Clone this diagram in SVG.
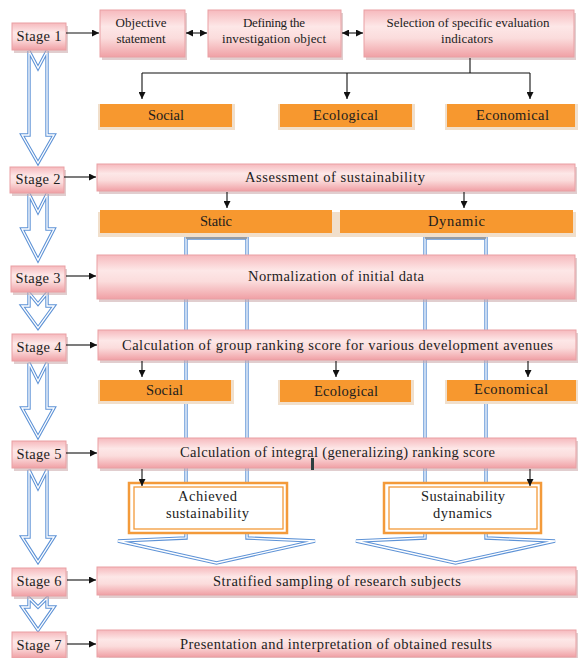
<svg xmlns="http://www.w3.org/2000/svg" width="578" height="658" viewBox="0 0 578 658">
<defs>
<linearGradient id="pk" x1="0" y1="0" x2="0" y2="1">
<stop offset="0" stop-color="#f6b9bd"/>
<stop offset="0.35" stop-color="#fde7e7"/>
<stop offset="0.6" stop-color="#fbdcdc"/>
<stop offset="1" stop-color="#f0a0a5"/>
</linearGradient>
<marker id="ah" viewBox="0 0 10 10" refX="10" refY="5" markerWidth="7" markerHeight="7" markerUnits="userSpaceOnUse" orient="auto-start-reverse">
<path d="M0,0 L10,5 L0,10 z" fill="#111"/>
</marker>
<style>
.pink{fill:url(#pk);stroke:#e9a0a4;stroke-width:1}
.shd{fill:#c9a5a7;opacity:0.55}
.org{fill:#f7982f}
.osh{fill:#f1dfcb}
.t{font-family:"Liberation Serif","Times New Roman",serif;font-size:14.5px;fill:#1d1d1d;text-anchor:middle}
.tt{font-family:"Liberation Serif","Times New Roman",serif;font-size:13px;fill:#1d1d1d;text-anchor:middle}
.ts{font-family:"Liberation Serif","Times New Roman",serif;font-size:14.5px;fill:#1d1d1d;text-anchor:middle}
.c{stroke:#111;stroke-width:1.1;fill:none}
.ca{stroke:#111;stroke-width:1.1;fill:none;marker-end:url(#ah)}
.b1{fill:#ffffff;stroke:#5d92d6;stroke-width:3.4;stroke-linejoin:miter}
.b2{fill:none;stroke:#ffffff;stroke-width:1.3;stroke-linejoin:miter}
.ob{fill:#fff;stroke:#f39a3a;stroke-width:2.5}
.ib{fill:none;stroke:#f39a3a;stroke-width:1.3}
</style>
</defs>

<!-- big hollow arrows (behind boxes) -->
<g id="hollow-arrows">
<path class="b1" d="M186,238 H247 V538 L315,541 L216.5,563 L118,541 L186,538 Z"/>
<path class="b2" d="M186,238 H247 V538 L315,541 L216.5,563 L118,541 L186,538 Z"/>
<path class="b1" d="M425,238 H486 V538 L555,541 L455.5,563 L356,541 L425,538 Z"/>
<path class="b2" d="M425,238 H486 V538 L555,541 L455.5,563 L356,541 L425,538 Z"/>
<line x1="186" y1="238" x2="247" y2="238" stroke="#555" stroke-width="1"/>
<line x1="425" y1="238" x2="486" y2="238" stroke="#555" stroke-width="1"/>
</g>

<!-- left stage arrows -->
<g id="stage-arrows">
<path class="b1" d="M29,51 L38,68 L47,51 V135 H54 L38,163 L22,135 H29 Z"/>
<path class="b2" d="M29,51 L38,68 L47,51 V135 H54 L38,163 L22,135 H29 Z"/>
<path class="b1" d="M29,194 L38,212 L47,194 V229 H54 L38,260 L22,229 H29 Z"/>
<path class="b2" d="M29,194 L38,212 L47,194 V229 H54 L38,260 L22,229 H29 Z"/>
<path class="b1" d="M29,293 L38,304 L47,293 V306 H54 L38,328 L22,306 H29 Z"/>
<path class="b2" d="M29,293 L38,304 L47,293 V306 H54 L38,328 L22,306 H29 Z"/>
<path class="b1" d="M29,363 L38,381 L47,363 V408 H54 L38,437 L22,408 H29 Z"/>
<path class="b2" d="M29,363 L38,381 L47,363 V408 H54 L38,437 L22,408 H29 Z"/>
<path class="b1" d="M29,470 L38,488 L47,470 V537 H54 L38,562 L22,537 H29 Z"/>
<path class="b2" d="M29,470 L38,488 L47,470 V537 H54 L38,562 L22,537 H29 Z"/>
<path class="b1" d="M29,598 L38,607 L47,598 V607 H54 L38,630 L22,607 H29 Z"/>
<path class="b2" d="M29,598 L38,607 L47,598 V607 H54 L38,630 L22,607 H29 Z"/>
</g>

<!-- stage boxes -->
<g id="stage1"><rect class="shd" x="14" y="26" width="54" height="27"/><rect class="pink" x="12" y="23" width="54" height="27"/><text class="ts" x="39" y="41" textLength="45">Stage 1</text></g>
<g id="stage2"><rect class="shd" x="12" y="170" width="54" height="26"/><rect class="pink" x="10" y="167" width="54" height="26"/><text class="ts" x="38" y="184" textLength="45">Stage 2</text></g>
<g id="stage3"><rect class="shd" x="13" y="269" width="54" height="26"/><rect class="pink" x="11" y="266" width="54" height="26"/><text class="ts" x="38" y="283" textLength="45">Stage 3</text></g>
<g id="stage4"><rect class="shd" x="14" y="337" width="54" height="27"/><rect class="pink" x="12" y="334" width="54" height="27"/><text class="ts" x="39" y="352" textLength="45">Stage 4</text></g>
<g id="stage5"><rect class="shd" x="14" y="444" width="54" height="27"/><rect class="pink" x="12" y="441" width="54" height="27"/><text class="ts" x="39" y="459" textLength="45">Stage 5</text></g>
<g id="stage6"><rect class="shd" x="14" y="571" width="54" height="28"/><rect class="pink" x="12" y="568" width="54" height="28"/><text class="ts" x="39" y="586" textLength="45">Stage 6</text></g>
<g id="stage7"><rect class="shd" x="14" y="635" width="54" height="26"/><rect class="pink" x="12" y="632" width="54" height="26"/><text class="ts" x="39" y="650" textLength="45">Stage 7</text></g>

<!-- stage 1 content -->
<g id="objective"><rect class="shd" x="102" y="13" width="85" height="47"/><rect class="pink" x="100" y="10" width="85" height="47"/><text class="tt" x="141" y="27" textLength="51">Objective</text><text class="tt" x="141" y="43" textLength="49">statement</text></g>
<g id="defining"><rect class="shd" x="210" y="13" width="133" height="47"/><rect class="pink" x="208" y="10" width="133" height="47"/><text class="tt" x="274" y="27" textLength="62">Defining the</text><text class="tt" x="274" y="43" textLength="104">investigation object</text></g>
<g id="selection"><rect class="shd" x="366" y="13" width="210" height="47"/><rect class="pink" x="364" y="10" width="210" height="47"/><text class="tt" x="468" y="27" textLength="163">Selection of specific evaluation</text><text class="tt" x="467" y="43" textLength="52">indicators</text></g>

<g id="social1"><rect class="osh" x="98" y="104" width="137" height="26"/><rect class="org" x="100" y="104" width="132" height="23"/><text class="t" x="166" y="120" textLength="36">Social</text></g>
<g id="ecological1"><rect class="osh" x="278" y="104" width="137" height="26"/><rect class="org" x="280" y="104" width="132" height="23"/><text class="t" x="345.5" y="120" textLength="65">Ecological</text></g>
<g id="economical1"><rect class="osh" x="445" y="104" width="133" height="26"/><rect class="org" x="447" y="104" width="128" height="23"/><text class="t" x="512.5" y="120" textLength="73">Economical</text></g>

<!-- stage 2 -->
<g id="assessment"><rect class="shd" x="99" y="167" width="478" height="27"/><rect class="pink" x="97" y="164" width="478" height="27"/><text class="t" x="335" y="182" textLength="180">Assessment of sustainability</text></g>
<rect class="osh" x="98" y="212" width="478" height="25"/>
<g id="static"><rect class="org" x="100" y="210" width="232" height="23"/><text class="t" x="216" y="226" textLength="32">Static</text></g>
<g id="dynamic"><rect class="org" x="340" y="210" width="233" height="23"/><text class="t" x="456.5" y="226" textLength="57">Dynamic</text></g>

<!-- stage 3 -->
<g id="normalization"><rect class="shd" x="99" y="258" width="478" height="44"/><rect class="pink" x="97" y="255" width="478" height="44"/><text class="t" x="336" y="281" textLength="176">Normalization of initial data</text></g>

<!-- stage 4 -->
<g id="group-score"><rect class="shd" x="100" y="333" width="478" height="30"/><rect class="pink" x="98" y="330" width="478" height="30"/><text class="t" x="337.5" y="350" textLength="431">Calculation of group ranking score for various development avenues</text></g>
<g id="social2"><rect class="osh" x="98" y="380" width="136" height="24"/><rect class="org" x="100" y="380" width="131" height="21"/><text class="t" x="164.5" y="395" textLength="37">Social</text></g>
<g id="ecological2"><rect class="osh" x="278" y="380" width="136" height="25"/><rect class="org" x="280" y="380" width="131" height="22"/><text class="t" x="346" y="396" textLength="64">Ecological</text></g>
<g id="economical2"><rect class="osh" x="445" y="380" width="133" height="24"/><rect class="org" x="447" y="380" width="129" height="21"/><text class="t" x="511" y="394" textLength="74">Economical</text></g>

<!-- stage 5 -->
<g id="integral-score"><rect class="shd" x="100" y="441" width="478" height="30"/><rect class="pink" x="98" y="438" width="478" height="30"/><text class="t" x="337.5" y="457" textLength="315">Calculation of integral (generalizing) ranking score</text></g>
<rect x="311" y="458" width="3" height="12" fill="#2d3f3f"/>

<g id="achieved"><rect class="ob" x="129" y="483" width="158" height="50"/><rect class="ib" x="134" y="487" width="149" height="42"/><text class="t" x="207.5" y="501" textLength="59">Achieved</text><text class="t" x="207.5" y="518" textLength="83">sustainability</text></g>
<g id="dynamics"><rect class="ob" x="384" y="483" width="157" height="50"/><rect class="ib" x="389" y="487" width="148" height="42"/><text class="t" x="463" y="501" textLength="84">Sustainability</text><text class="t" x="462.5" y="518" textLength="59">dynamics</text></g>

<!-- stage 6 -->
<g id="stratified"><rect class="shd" x="99" y="570" width="479" height="28"/><rect class="pink" x="97" y="567" width="479" height="28"/><text class="t" x="337" y="586" textLength="248">Stratified sampling of research subjects</text></g>

<!-- stage 7 -->
<g id="presentation"><rect class="shd" x="99" y="633" width="479" height="27"/><rect class="pink" x="97" y="630" width="479" height="27"/><text class="t" x="336" y="649" textLength="312">Presentation and interpretation of obtained results</text></g>

<!-- connectors -->
<g id="connectors">
<line class="ca" x1="66" y1="33" x2="99" y2="33"/>
<line class="ca" x1="186" y1="33" x2="207" y2="33" style="marker-start:url(#ah)"/>
<line class="ca" x1="342" y1="33" x2="363" y2="33" style="marker-start:url(#ah)"/>
<path class="c" d="M470,58 V73 M142,73 H530"/>
<line class="ca" x1="142" y1="73" x2="142" y2="99"/>
<line class="ca" x1="347" y1="73" x2="347" y2="99"/>
<line class="ca" x1="530" y1="73" x2="530" y2="99"/>
<line class="ca" x1="64" y1="177" x2="96" y2="177"/>
<line class="ca" x1="227" y1="192" x2="227" y2="208"/>
<line class="ca" x1="464" y1="192" x2="464" y2="208"/>
<line class="ca" x1="66" y1="276" x2="96" y2="276"/>
<line class="ca" x1="66" y1="345" x2="97" y2="345"/>
<line class="ca" x1="142" y1="361" x2="142" y2="377"/>
<line class="ca" x1="336" y1="361" x2="336" y2="377"/>
<line class="ca" x1="528" y1="361" x2="528" y2="377"/>
<line class="ca" x1="66" y1="453" x2="97" y2="453"/>
<line class="ca" x1="142" y1="469" x2="142" y2="486"/>
<line class="ca" x1="530" y1="469" x2="530" y2="486"/>
<line class="ca" x1="67" y1="580" x2="96" y2="580"/>
<line class="ca" x1="67" y1="644" x2="96" y2="644"/>
</g>
</svg>
